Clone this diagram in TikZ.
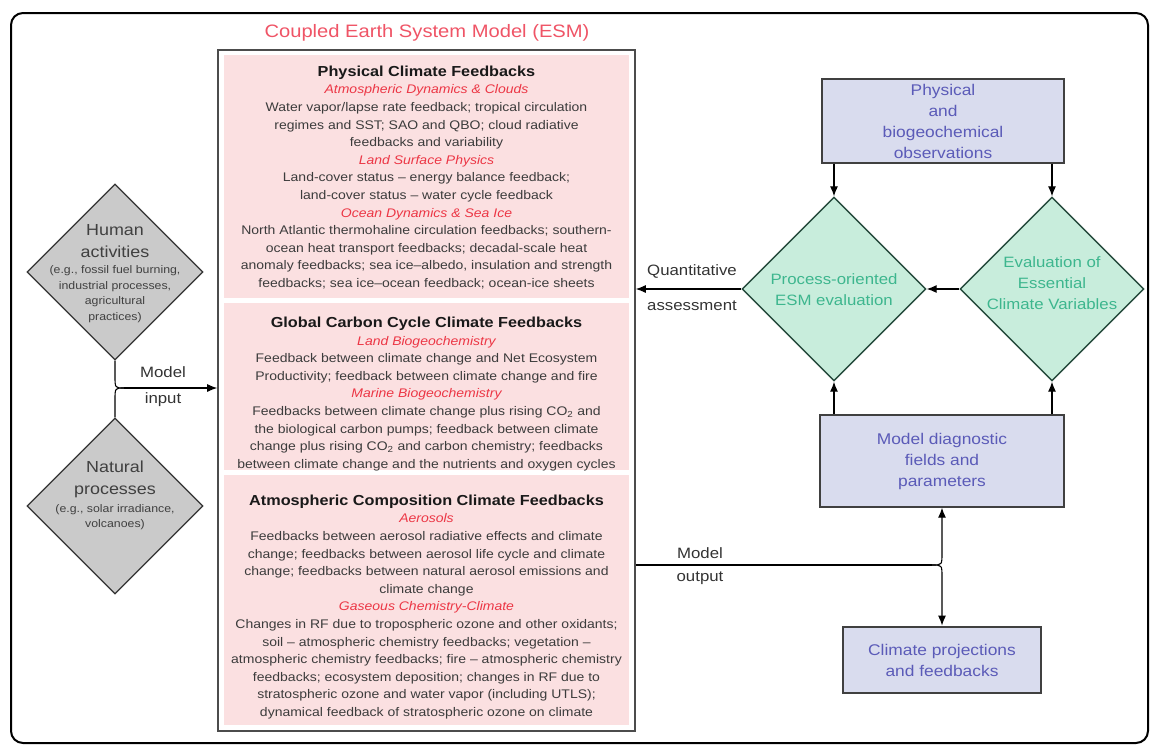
\documentclass[tikz,border=0pt]{standalone}
\usepackage{fontspec}
\setmainfont{Liberation Sans}[FakeStretch=1.12]
\usetikzlibrary{shapes.geometric,arrows.meta}
\definecolor{esmpink}{HTML}{FBE0E1}
\definecolor{titlered}{HTML}{EF5466}
\definecolor{subred}{HTML}{EC3645}
\definecolor{bodygray}{HTML}{3C3C3C}
\definecolor{humangray}{HTML}{CACACA}
\definecolor{evalgreen}{HTML}{C8EDDC}
\definecolor{evaltext}{HTML}{3DB68E}
\definecolor{evalborder}{HTML}{254A3C}
\definecolor{obsblue}{HTML}{D9DCEE}
\definecolor{obstext}{HTML}{5B5BB8}
\newcommand{\esmhead}{\bfseries\fontsize{14.5}{17.6}\selectfont\color{black!90}}
\newcommand{\esmsub}{\itshape\color{subred}}

\begin{document}
\begin{tikzpicture}[x=1pt,y=-1pt,
  body/.style={align=center,text=bodygray,font=\fontsize{12.5}{17.6}\selectfont},
  panel/.style={fill=esmpink,minimum width=405pt,inner sep=0pt},
  graydia/.style={diamond,draw=black!80,fill=humangray,line width=1.2pt,
    minimum width=176pt,minimum height=176pt,inner sep=0pt},
  greendia/.style={diamond,draw=evalborder,fill=evalgreen,line width=1.4pt,
    minimum width=184pt,minimum height=184pt,inner sep=0pt},
  bluebox/.style={rectangle,draw=black!75,fill=obsblue,line width=1.4pt,
    text=obstext,align=center,font=\fontsize{15.5}{21}\selectfont},
  sidetext/.style={align=center,text=black!75,font=\fontsize{16}{22}\selectfont},
  smalltext/.style={align=center,text=black!75,font=\fontsize{11}{15.5}\selectfont},
  evaltxt/.style={align=center,text=evaltext,font=\fontsize{15}{21}\selectfont},
  lbl/.style={text=black!80,font=\fontsize{15}{18}\selectfont},
  arr/.style={-{Latex[length=10pt,width=8pt]},line width=1.1pt}]
\useasboundingbox (0,0) rectangle (1151,745);
\draw [line width=2pt,rounded corners=12pt] (11,13) rectangle (1148,743);

\node [text=titlered,font=\fontsize{18}{20}\selectfont] (title) at (427,33)
   {Coupled Earth System Model (ESM)};
\node [draw=black!70,line width=1.6pt,minimum width=417pt,minimum height=681pt,
   inner sep=0pt] (esm) at (426.5,390.5) {};
\node [panel,minimum height=243pt] (phys) at (426.5,176.5) {};
\node [panel,minimum height=167pt] (carb) at (426.5,386.5) {};
\node [panel,minimum height=250pt] (chem) at (426.5,600) {};

\node [body] (physt) at (426.5,177.5) {{\esmhead Physical Climate Feedbacks}\\
   {\esmsub Atmospheric Dynamics \& Clouds}\\
   Water vapor/lapse rate feedback; tropical circulation\\
   regimes and SST; SAO and QBO; cloud radiative\\
   feedbacks and variability\\
   {\esmsub Land Surface Physics}\\
   Land-cover status -- energy balance feedback;\\
   land-cover status -- water cycle feedback\\
   {\esmsub Ocean Dynamics \& Sea Ice}\\
   North Atlantic thermohaline circulation feedbacks; southern-\\
   ocean heat transport feedbacks; decadal-scale heat\\
   anomaly feedbacks; sea ice--albedo, insulation and strength\\
   feedbacks; sea ice--ocean feedback; ocean-ice sheets};
\node [body] (carbt) at (426.5,394) {{\esmhead Global Carbon Cycle Climate Feedbacks}\\
   {\esmsub Land Biogeochemistry}\\
   Feedback between climate change and Net Ecosystem\\
   Productivity; feedback between climate change and fire\\
   {\esmsub Marine Biogeochemistry}\\
   Feedbacks between climate change plus rising CO\textsubscript{2} and\\
   the biological carbon pumps; feedback between climate\\
   change plus rising CO\textsubscript{2} and carbon chemistry; feedbacks\\
   between climate change and the nutrients and oxygen cycles};
\node [body] (chemt) at (426.5,607) {{\esmhead Atmospheric Composition Climate Feedbacks}\\
   {\esmsub Aerosols}\\
   Feedbacks between aerosol radiative effects and climate\\
   change; feedbacks between aerosol life cycle and climate\\
   change; feedbacks between natural aerosol emissions and\\
   climate change\\
   {\esmsub Gaseous Chemistry-Climate}\\
   Changes in RF due to tropospheric ozone and other oxidants;\\
   soil -- atmospheric chemistry feedbacks; vegetation --\\
   atmospheric chemistry feedbacks; fire -- atmospheric chemistry\\
   feedbacks; ecosystem deposition; changes in RF due to\\
   stratospheric ozone and water vapor (including UTLS);\\
   dynamical feedback of stratospheric ozone on climate};

\node [graydia] (human) at (115,272) {};
\node [sidetext] (humant) at (115,241) {Human\\activities};
\node [smalltext] (humaneg) at (115,294) {(e.g., fossil fuel burning,\\
   industrial processes,\\agricultural\\practices)};
\node [graydia] (natural) at (115,506) {};
\node [sidetext] (naturalt) at (115,479) {Natural\\processes};
\node [smalltext] (naturaleg) at (115,517) {(e.g., solar irradiance,\\volcanoes)};

\coordinate (inj) at (124,388);
\draw [line width=1.1pt] (human.south) -- (115,376) .. controls (115,388) .. (inj);
\draw [line width=1.1pt] (natural.north) -- (115,400) .. controls (115,388) .. (inj);
\draw [arr] (inj) -- (esm.west |- inj);
\node [lbl] (inlbl) at (163,372) {Model};
\node [lbl] (inlblb) at (163,400) {input};

\node [bluebox,minimum width=242pt,minimum height=84pt] (obs) at (943,121)
   {Physical\\and\\biogeochemical\\observations};
\node [greendia] (procdia) at (834,289) {};
\node [evaltxt] (proct) at (834,289.5) {Process-oriented\\ESM evaluation};
\node [greendia] (ecvdia) at (1052,289) {};
\node [evaltxt] (ecvt) at (1052,283) {Evaluation of\\Essential\\Climate Variables};
\node [bluebox,minimum width=244pt,minimum height=92pt] (diag) at (942,461)
   {Model diagnostic\\fields and\\parameters};
\node [bluebox,line width=2.8pt,minimum width=198pt,minimum height=66pt] (proj)
   at (942,660) {Climate projections\\and feedbacks};

\draw [arr] (obs.south -| procdia.north) -- (procdia.north);
\draw [arr] (obs.south -| ecvdia.north) -- (ecvdia.north);
\draw [arr] (diag.north -| procdia.south) -- (procdia.south);
\draw [arr] (diag.north -| ecvdia.south) -- (ecvdia.south);
\draw [arr] (ecvdia.west) -- (procdia.east);
\draw [arr] (procdia.west) -- (esm.east |- procdia.west);
\node [lbl] (qlbl) at (692,271) {Quantitative};
\node [lbl] (qlblb) at (692,306) {assessment};

\coordinate (outj) at (932,565);
\draw [line width=1.1pt] (esm.east |- outj) -- (outj);
\draw [arr] (outj) .. controls (942,565) .. (942,553) -- (diag.south);
\draw [arr] (outj) .. controls (942,565) .. (942,577) -- (proj.north);
\node [lbl] (outlbl) at (700,553) {Model};
\node [lbl] (outlblb) at (700,578) {output};
\end{tikzpicture}
\end{document}
